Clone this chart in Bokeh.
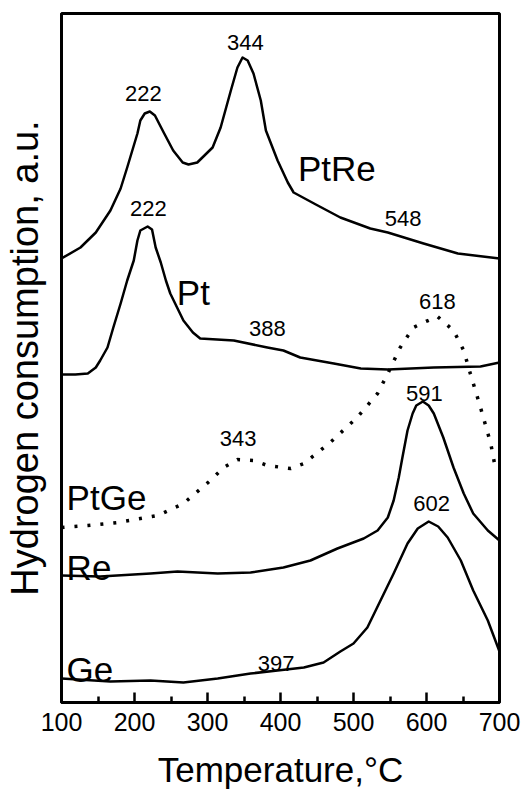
from bokeh.plotting import figure
from bokeh.models import Range1d, FixedTicker, Label
from bokeh.embed import file_html
from bokeh.resources import INLINE

# ---- data (temperature in °C, hydrogen consumption in a.u.) ----
ptre_t = [100, 126, 147, 167, 181, 190, 204, 208, 214, 221, 228, 240, 253, 266, 274, 286, 307, 318,
          332, 341, 348, 355, 363, 373, 380, 396, 410, 418, 451, 482, 523, 547, 596, 643, 700]
ptre_h = [444, 455, 470, 492, 514, 535, 569, 582, 589, 591, 587, 570, 552, 540, 538, 540, 555, 575,
          612, 635, 645, 642, 629, 602, 572, 542, 520, 510, 497, 485, 474, 470, 459, 449, 444]

pt_t = [100, 119, 136, 147, 153, 163, 171, 181, 190, 199, 204, 208, 218, 224, 229, 236, 243, 249,
        259, 267, 280, 290, 336, 382, 404, 427, 473, 510, 547, 610, 674, 700]
pt_h = [328, 328, 329, 335, 342, 355, 375, 399, 422, 442, 462, 472, 476, 473, 455, 440, 422, 409,
        394, 382, 370, 364, 362, 355, 352, 345, 339, 334, 333, 335, 336, 340]

ptge_t = [100, 136, 177, 232, 267, 304, 322, 341, 363, 382, 414, 432, 468, 505, 533, 547, 564, 582,
          596, 615, 637, 651, 660, 674, 688, 695]
ptge_h = [175, 177, 180, 187, 199, 222, 235, 243, 242, 237, 234, 239, 260, 285, 309, 329, 355, 375,
          380, 386, 372, 352, 329, 295, 259, 232]

re_t = [100, 153, 222, 259, 314, 359, 404, 441, 478, 514, 533, 547, 555, 562, 567, 574, 581, 586,
        595, 603, 610, 623, 637, 651, 664, 684, 700]
re_h = [127, 126, 129, 131, 129, 130, 135, 142, 154, 164, 172, 185, 202, 225, 245, 272, 289, 297,
        301, 297, 289, 265, 235, 209, 189, 172, 162]

ge_t = [100, 167, 222, 267, 314, 359, 396, 432, 459, 482, 500, 519, 537, 555, 574, 588, 603, 616,
        629, 647, 664, 684, 700]
ge_h = [24, 21, 22, 20, 24, 29, 32, 35, 40, 51, 59, 75, 102, 129, 159, 174, 181, 176,
        165, 142, 112, 82, 51]

x_ticks = [100, 200, 300, 400, 500, 600, 700]
x_minor = [150, 250, 350, 450, 550, 650]

peak_texts = ["222", "344", "548", "222", "388", "618", "591", "343", "602", "397"]
peak_x = [212, 352, 568, 219, 382, 615, 597, 342, 607, 394]
peak_y = [609, 660, 484, 494, 374, 401, 309, 264, 199, 39]

name_texts = ["PtRe", "Pt", "PtGe", "Re", "Ge"]
name_x = [424, 258, 107, 107, 107]
name_y = [534, 410, 205, 135, 33]

x_title = "Temperature,°C"
y_title = "Hydrogen consumption, a.u."

FONT = "Liberation Sans"

p = figure(width=525, height=795, output_backend="svg", toolbar_location=None,
           x_range=Range1d(100, 700), y_range=Range1d(0, 689),
           min_border_left=61, min_border_right=26, min_border_top=13, min_border_bottom=93)
p.xgrid.visible = False
p.ygrid.visible = False
p.outline_line_color = "black"
p.outline_line_width = 3
p.outline_line_alpha = 1.0
p.background_fill_color = "white"
p.border_fill_color = "white"

# x axis
xa = p.xaxis[0]
xa.ticker = FixedTicker(ticks=x_ticks, minor_ticks=x_minor)
xa.axis_line_width = 3
xa.axis_line_color = "black"
xa.major_tick_in = 10
xa.major_tick_out = 0
xa.minor_tick_in = 6
xa.minor_tick_out = 0
xa.major_tick_line_width = 2.5
xa.minor_tick_line_width = 2.5
xa.major_tick_line_color = "black"
xa.minor_tick_line_color = "black"
xa.major_label_text_font = FONT
xa.major_label_text_font_size = "25px"
xa.major_label_text_color = "black"
xa.major_label_standoff = 10
xa.axis_label = x_title
xa.axis_label_text_font = FONT
xa.axis_label_text_font_size = "35px"
xa.axis_label_text_font_style = "normal"
xa.axis_label_text_color = "black"
xa.axis_label_standoff = 16

# y axis
ya = p.yaxis[0]
ya.ticker = FixedTicker(ticks=[])
ya.axis_line_width = 3
ya.axis_line_color = "black"
ya.major_tick_line_color = None
ya.minor_tick_line_color = None
ya.major_label_text_font_size = "0px"
ya.axis_label = y_title
ya.axis_label_text_font = FONT
ya.axis_label_text_font_size = "38px"
ya.axis_label_text_font_style = "normal"
ya.axis_label_text_color = "black"
ya.axis_label_standoff = 16

# curves
for t, h in [(ptre_t, ptre_h), (pt_t, pt_h), (re_t, re_h), (ge_t, ge_h)]:
    p.line(t, h, line_color="black", line_width=2.5, line_join="round")
p.line(ptge_t, ptge_h, line_color="black", line_width=3.5, line_dash="3 10")

# labels
for txt, x, y in zip(peak_texts, peak_x, peak_y):
    p.add_layout(Label(x=x, y=y, text=txt, text_align="center", text_baseline="alphabetic",
                       text_font=FONT, text_font_size="22px", text_color="black"))
for txt, x, y in zip(name_texts, name_x, name_y):
    p.add_layout(Label(x=x, y=y, text=txt, text_align="left", text_baseline="alphabetic",
                       text_font=FONT, text_font_size="35px", text_color="black"))

open("out.html", "w").write(file_html(p, INLINE))
